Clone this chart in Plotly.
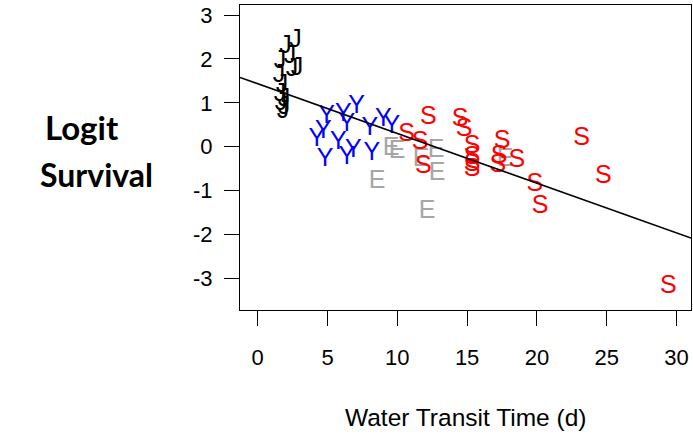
import plotly.graph_objects as go

# ---- data ----
j_x = [2.71, 1.99, 2.31, 2.82, 2.46, 1.60, 1.53, 1.74, 1.60, 1.88, 1.67, 1.88, 1.81]
j_y = [2.41, 2.27, 2.04, 1.77, 1.75, 1.93, 1.61, 1.38, 1.18, 1.06, 0.97, 0.88, 0.79]

y_x = [7.09, 4.94, 6.13, 6.38, 9.00, 9.60, 8.04, 4.70, 4.23, 5.77, 6.85, 6.38, 4.82, 8.17]
y_y = [0.91, 0.68, 0.72, 0.49, 0.61, 0.46, 0.42, 0.34, 0.15, 0.08, -0.08, -0.26, -0.30, -0.15]

e_x = [8.55, 9.55, 9.98, 11.70, 12.77, 12.85, 12.13, 17.72]
e_y = [-0.80, -0.05, -0.12, -0.30, -0.08, -0.62, -1.47, -0.30]

s_x = [12.22, 10.67, 11.63, 11.86, 14.49, 14.78, 15.35, 15.35, 15.35, 15.35,
       17.50, 17.29, 17.21, 18.56, 19.86, 20.22, 23.21, 24.76, 29.41]
s_y = [0.65, 0.27, 0.08, -0.46, 0.61, 0.38, -0.01, -0.26, -0.42, -0.53,
       0.11, -0.23, -0.44, -0.33, -0.87, -1.37, 0.19, -0.68, -3.19]

fit_intercept = 1.436
fit_slope = -0.1133

x_range = [-1.27, 31.04]
y_range = [-3.72, 3.23]
x_ticks = [0, 5, 10, 15, 20, 25, 30]
y_ticks = [-3, -2, -1, 0, 1, 2, 3]
y_tick_labels = ["-3", "-2", "-1", "0", "1", "2", "3"]

# ---- figure ----
letter_font = "Liberation Sans, Arial, sans-serif"
fig = go.Figure()

def letters(xs, ys, ch, color):
    fig.add_trace(go.Scatter(
        x=xs, y=ys, mode="text", text=[ch] * len(xs),
        textposition="middle center",
        textfont=dict(family=letter_font, size=25, color=color),
        showlegend=False, hoverinfo="skip", cliponaxis=False))

letters(j_x, j_y, "J", "black")
letters(y_x, y_y, "Y", "#0000ff")
letters(e_x, e_y, "E", "#a6a6a6")
letters(s_x, s_y, "S", "#ff0000")

fig.add_trace(go.Scatter(
    x=x_range,
    y=[fit_intercept + fit_slope * v for v in x_range],
    mode="lines", line=dict(color="black", width=1.5),
    showlegend=False, hoverinfo="skip"))

axis_common = dict(
    showgrid=False, zeroline=False, showline=True, mirror=True,
    linecolor="black", linewidth=1.3, ticks="outside", ticklen=15,
    tickwidth=1.3, tickcolor="black",
    tickfont=dict(family=letter_font, size=22, color="black"))

fig.update_xaxes(range=x_range, tickvals=x_ticks, ticklabelstandoff=12, **axis_common)
fig.update_yaxes(range=y_range, tickvals=y_ticks, ticktext=y_tick_labels,
                 ticklabelstandoff=7, **axis_common)

fig.update_layout(
    width=693, height=437,
    margin=dict(l=240, r=2, t=5, b=127),
    plot_bgcolor="white", paper_bgcolor="white",
    annotations=[
        dict(text="Water Transit Time (d)", xref="paper", yref="paper",
             x=0.5, y=-0.352, xanchor="center", yanchor="middle",
             showarrow=False,
             font=dict(family=letter_font, size=24.5, color="black")),
        dict(text="<b>Logit</b>", xref="paper", yref="paper",
             x=-0.35, y=0.60, xanchor="center", yanchor="middle",
             showarrow=False,
             font=dict(family="Lato, sans-serif", size=33, color="black")),
        dict(text="<b>Survival</b>", xref="paper", yref="paper",
             x=-0.319, y=0.444, xanchor="center", yanchor="middle",
             showarrow=False,
             font=dict(family="Lato, sans-serif", size=32, color="black")),
    ])

fig.write_html("out.html", config={"displayModeBar": False},
               post_script="document.body.style.margin='0';")
